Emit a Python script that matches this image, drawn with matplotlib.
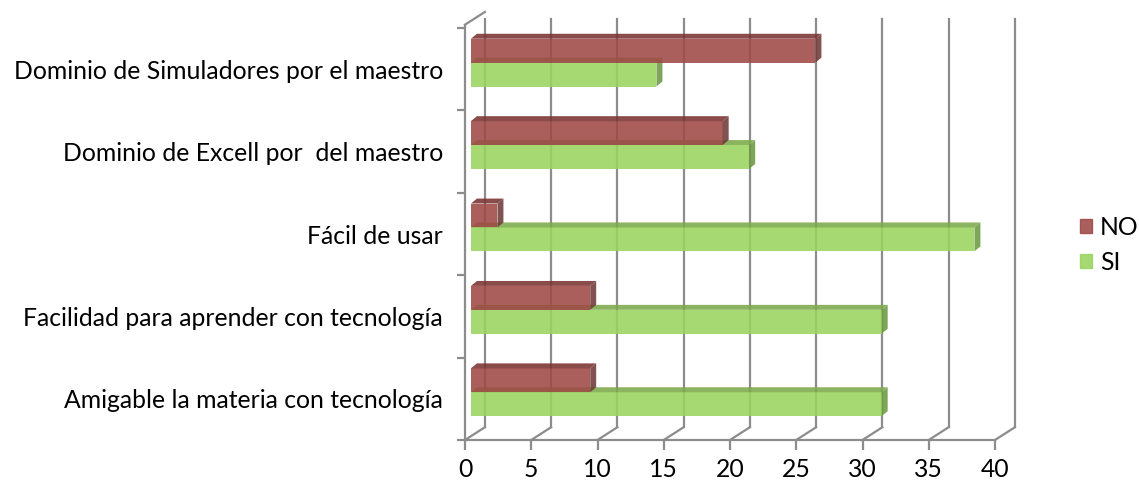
import numpy as np
import matplotlib.pyplot as plt
from matplotlib.patches import Polygon, Patch

# data (bottom to top, as drawn)
categories = ['Amigable la materia con tecnología',
              'Facilidad para aprender con tecnología',
              'Fácil de usar',
              'Dominio de Excell por  del maestro',
              'Dominio de Simuladores por el maestro']
si_values = [31, 31, 38, 21, 14]
no_values = [9, 9, 2, 19, 26]
x_ticks = [0, 5, 10, 15, 20, 25, 30, 35, 40]

# fake 3d geometry, in data units
WALL_DX, WALL_DY = 1.5, 0.155     # back wall offset
BAR_DX, BAR_DY = 0.45, 0.08       # bars plane offset
DEPTH_DX, DEPTH_DY = 0.45, 0.06   # bar thickness
BAR_H = 0.29

GRID = '#8c8c8c'
NO_C = ('#9e4946', '#7a3331', '#6e3b39')
SI_C = ('#9ad45e', '#7ca94a', '#6c9a42')

plt.rcParams['font.family'] = ['Lato', 'DejaVu Sans']
FS = 17.8

fig = plt.figure(figsize=(11.39, 4.87), dpi=100)
ax = fig.add_axes([465 / 1139, 47 / 487, 530 / 1139, 412 / 487])
ax.set_xlim(0, 40)
ax.set_ylim(0, 5)
ax.set_facecolor('none')
for s in ax.spines.values():
    s.set_visible(False)

# back wall gridlines + floor diagonals
for v in x_ticks:
    ax.plot([v + WALL_DX, v + WALL_DX], [WALL_DY, 5 + 0.03 + WALL_DY / 2],
            color=GRID, lw=1.6, clip_on=False, zorder=1)
    ax.plot([v, v + WALL_DX], [0, WALL_DY], color=GRID, lw=1.6,
            clip_on=False, zorder=1)
# front axis lines
ax.plot([0, 40], [0, 0], color=GRID, lw=1.6, clip_on=False, zorder=1)
ax.plot([0, 0], [0, 5.04], color=GRID, lw=1.6, clip_on=False, zorder=1)
ax.plot([0, WALL_DX], [5.04, 5.04 + WALL_DY], color=GRID, lw=1.6,
        clip_on=False, zorder=1)


def bar3d(y0, v, cols, z):
    front, top, side = cols
    ax.barh(y0, v, height=BAR_H, left=BAR_DX, align='edge', color=front,
            alpha=0.88, zorder=z, lw=0)
    x0, x1, y1 = BAR_DX, BAR_DX + v, y0 + BAR_H
    ax.add_patch(Polygon([(x0, y1), (x1, y1), (x1 + DEPTH_DX, y1 + DEPTH_DY),
                          (x0 + DEPTH_DX, y1 + DEPTH_DY)], closed=True,
                         fc=top, alpha=0.88, lw=0, zorder=z))
    ax.add_patch(Polygon([(x1, y0), (x1, y1), (x1 + DEPTH_DX, y1 + DEPTH_DY),
                          (x1 + DEPTH_DX, y0 + DEPTH_DY)], closed=True,
                         fc=side, alpha=0.88, lw=0, zorder=z))


for i, (si, no) in enumerate(zip(si_values, no_values)):
    c = i + 0.5 + BAR_DY
    bar3d(c - BAR_H, si, SI_C, 3)
    bar3d(c, no, NO_C, 4)

ax.set_xlim(0, 40)
ax.set_ylim(0, 5)

# ticks
ax.set_xticks(x_ticks)
ax.set_xticklabels([str(t) for t in x_ticks])
ax.set_yticks(range(6))
ax.set_yticklabels([])
ax.set_yticks(np.arange(5) + 0.5, minor=True)
ax.set_yticklabels(categories, minor=True)
ax.tick_params(axis='x', length=7, width=1.6, color=GRID, pad=6, labelsize=FS)
ax.tick_params(axis='y', which='major', length=6, width=1.6, color=GRID)
ax.tick_params(axis='y', which='minor', length=0, pad=16, labelsize=FS)

handles = [Patch(color=NO_C[0], alpha=0.88), Patch(color=SI_C[0], alpha=0.88)]
fig.legend(handles, ['NO', 'SI'], loc='center left',
           bbox_to_anchor=(1080 / 1139, 1 - 245 / 487), frameon=False,
           fontsize=FS, handlelength=0.5, handleheight=0.5, handletextpad=0.3,
           labelspacing=0.5, borderpad=0, borderaxespad=0)

fig.savefig('out.png', dpi=100)
